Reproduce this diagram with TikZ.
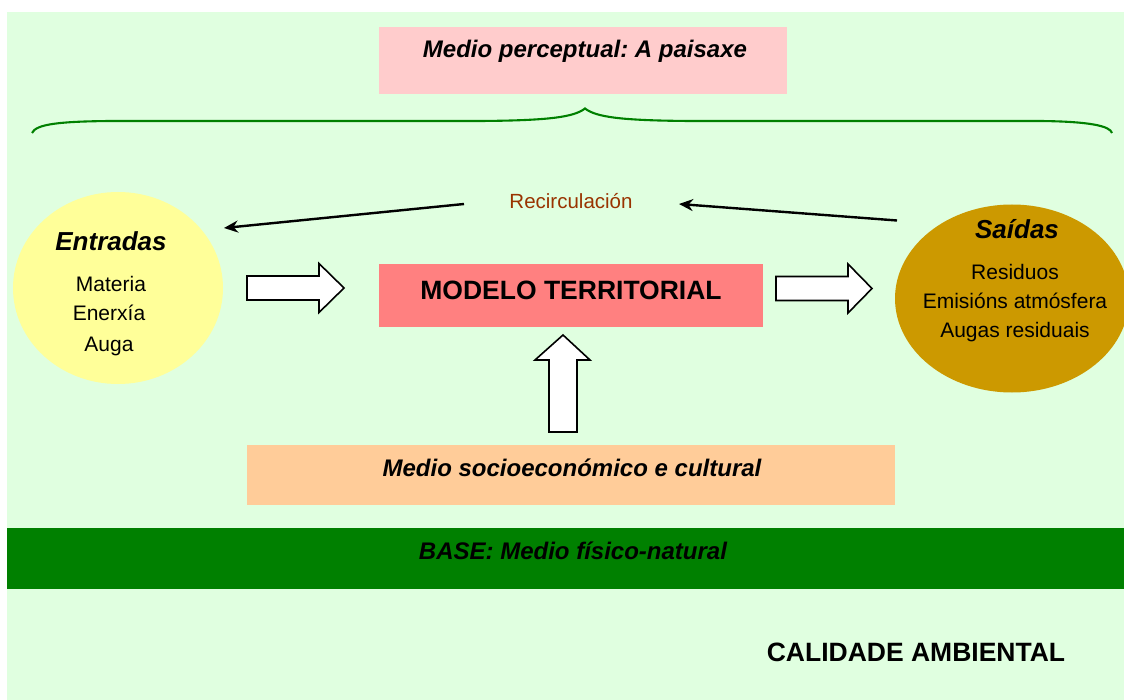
\documentclass[tikz,border=0pt]{standalone}
\usepackage{fontspec}
\setmainfont{Liberation Sans}
\usetikzlibrary{arrows.meta,shapes.geometric}
\frenchspacing
\definecolor{bgc}{HTML}{E0FFE0}
\definecolor{pinkc}{HTML}{FFCCCC}
\definecolor{yelc}{HTML}{FFFF99}
\definecolor{goldc}{HTML}{CC9900}
\definecolor{salc}{HTML}{FF8080}
\definecolor{peachc}{HTML}{FFCC99}
\definecolor{greenc}{HTML}{008000}
\definecolor{brownc}{HTML}{993300}
\tikzset{
  boxfill/.style={inner sep=0pt, draw=none},
  txt/.style={anchor=base, inner sep=0pt, font=\fontsize{21}{25}\selectfont},
  ttl/.style={anchor=base, inner sep=0pt, font=\fontsize{26}{30}\selectfont\bfseries\itshape},
  mid/.style={anchor=base, inner sep=0pt, font=\fontsize{24}{28}\selectfont\bfseries\itshape},
  big/.style={anchor=base, inner sep=0pt, font=\fontsize{26.5}{30}\selectfont\bfseries},
  blockarrow/.style={fill=white, draw=black, line width=1.6pt, line join=miter},
  recarrow/.style={line width=2.4pt, -{Stealth[length=14pt,width=12pt,inset=4.5pt]}}
}
\begin{document}
\begin{tikzpicture}[x=1pt,y=-1pt]
\useasboundingbox (0,0) rectangle (1124,700);
\fill[white] (0,0) rectangle (1124,700);
\fill[bgc] (7,12) rectangle (1124,700);
% top perceptual box
\node[boxfill, fill=pinkc, minimum width=408pt, minimum height=67pt] (perc) at (583,60.5) {};
\node[mid] (perct) at (585,58) {Medio perceptual: A paisaxe};
% brace
\draw[greenc, line width=2.1pt] (32,133) .. controls (36,124) and (60,121.5) .. (110,121)
  -- (480,121) .. controls (550,120.5) and (574,117) .. (585,108.5)
  .. controls (596,117) and (620,120.5) .. (690,121)
  -- (1040,121) .. controls (1090,121.5) and (1110,126) .. (1112,133);
% ellipses
\node[boxfill, fill=yelc, ellipse, minimum width=210pt, minimum height=192pt] (ent) at (118,288) {};
\node[boxfill, fill=goldc, ellipse, minimum width=234pt, minimum height=188pt] (sai) at (1012,298.5) {};
\node[ttl] (entt) at (111,251) {Entradas};
\node[txt] (e1) at (111,292) {Materia};
\node[txt] (e2) at (109,321) {Enerxía};
\node[txt] (e3) at (109,352) {Auga};
\node[ttl] (sait) at (1017,239) {Saídas};
\node[txt] (s1) at (1015,280) {Residuos};
\node[txt] (s2) at (1015,309) {Emisións atmósfera};
\node[txt] (s3) at (1015,338) {Augas residuais};
% model box
\node[boxfill, fill=salc, minimum width=384pt, minimum height=63pt] (mod) at (571,295.5) {};
\node[big] (modt) at (571,300) {MODELO TERRITORIAL};
% socio box
\node[boxfill, fill=peachc, minimum width=648pt, minimum height=60pt] (soc) at (571,475) {};
\node[mid] (soct) at (572,476) {Medio socioeconómico e cultural};
% base band
\node[boxfill, fill=greenc, minimum width=1117pt, minimum height=61pt] (base) at (565.5,558.5) {};
\node[mid] (baset) at (573,559) {BASE: Medio físico-natural};
% calidade
\node[big] (cal) at (916,661) {CALIDADE AMBIENTAL};
% recirculacion
\node[txt, text=brownc, font=\fontsize{20.5}{24}\selectfont] (rec) at (571,209) {Recirculación};
\coordinate (r1s) at (464,204);
\coordinate (r1e) at (224,228);
\coordinate (r2s) at (897,220.5);
\coordinate (r2e) at (679,204);
\draw[recarrow] (r1s) -- (r1e);
\draw[recarrow] (r2s) -- (r2e);
% block arrows
\draw[blockarrow] (247,276) -- (319,276) -- (319,263.5) -- (344,288) -- (319,312.5) -- (319,300) -- (247,300) -- cycle;
\draw[blockarrow] (776,276.5) -- (848,276.5) -- (848,264) -- (872,288.5) -- (848,313) -- (848,300.5) -- (776,300.5) -- cycle;
\draw[blockarrow] (549,432) -- (577,432) -- (577,360) -- (590,360) -- (563,335) -- (535,360) -- (549,360) -- cycle;
\end{tikzpicture}
\end{document}
